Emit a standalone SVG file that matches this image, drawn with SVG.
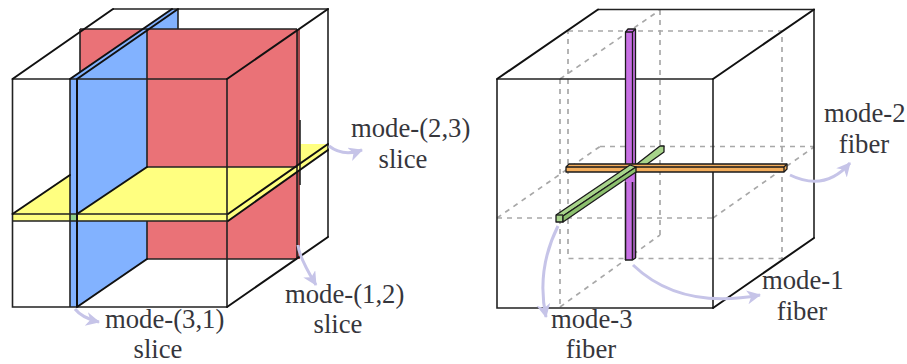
<svg xmlns="http://www.w3.org/2000/svg" width="907" height="364" viewBox="0 0 907 364">
<style>
.t{font-family:"Liberation Serif","Times New Roman",serif;font-size:26.7px;fill:#36363c}
.m{text-anchor:middle}
.e{fill:none;stroke:#222;stroke-width:1.6}
.d{fill:none;stroke:#111;stroke-width:2;stroke-linecap:round}
.h{fill:none;stroke:#a8a8a8;stroke-width:1.7;stroke-dasharray:5 5}
.o{stroke:#1a1a1a;stroke-width:1.3;stroke-linejoin:round}
.a{fill:none;stroke:#c6c4e8;stroke-width:3;marker-end:url(#ah)}
</style>
<defs>
<marker id="ah" markerUnits="userSpaceOnUse" markerWidth="18" markerHeight="18" refX="13" refY="7" orient="auto">
<path d="M0 0L14 7L0 14L4 7Z" fill="#c6c4e8"/>
</marker>
</defs>
<rect width="907" height="364" fill="#fff"/>

<g id="slice-cube">
<polygon points="80,29 297,29 297,259 147,259 147,221 80,221" fill="#ea7277"/>
<polygon points="300,144 328,144 300,164" fill="#ffff80"/>
<rect x="297" y="29" width="3" height="230" fill="#a8484c"/>
<polygon points="147,29 178,29 178,9 172,9" fill="#82b2ff"/>
<polygon points="12.5,214 80,167 297,167 297,171 228,221 12.500,221" fill="#ffff80"/>
<polygon points="77,79 147,29 147,167 77,214" fill="#82b2ff"/>
<polygon points="77,221 147,221 147,259 77,307" fill="#82b2ff"/>
<rect x="70" y="79" width="7" height="228" fill="#82b2ff"/>
<rect x="70" y="214" width="7" height="7" fill="#8fd08a"/>
<polygon points="70,79 172,9 178,9 77,79" fill="#82b2ff"/>
<polygon points="228,214 328,144 328,150 228,221" fill="#ffff80"/>
<path class="e" d="M12.500 79V307H227V79H12.500M113 9H328V237M80 29H297M80 29V72M147 29V167M147 221V259M178 9V29M147 167H297M147 259H297M12.500 214H227M12.500 221H227M297 29V259M300 120V185M70 79V307"/>
<path class="d" d="M12.500 79L113 9M227 79L328 9M227 307L328 237M12.500 214L70 175M77 214L147 167M77 307L147 259M228 214L328 144M228 221L328 150M70 79L172 9M77 79L178 9M77 79V307"/>
</g>

<g id="fiber-cube">
<path class="h" d="M568 31H782V258.500H568ZM600 146.500H814M660 10V235M560 79V307M497 218H713M560 79L660 10M497 218L600 146.500M713 218L814 147M560 307L660 235"/>
<path class="e" d="M497 79V308H713V79H497M598 9.500H814V238"/>
<path class="d" d="M497 79L598 9.500M713 79L814 9.500M713 308L814 238"/>
<polygon class="o" points="633,167 660,146 664,146 664,152 636,172" fill="#a7d48a"/>
<polygon class="o" points="625.500,32 628,29 635.500,29 635.500,258 632.500,260 625.500,260" fill="#c870e4"/>
<path class="o" d="M632.500 32V260M625.500 32H632.500L635.500 29" fill="none"/>
<polygon class="o" points="566,167 569,164 787,164 787,169 784,172 566,172" fill="#f4ae5c"/>
<path class="o" d="M566 167H784V172M784 167L787 164" fill="none"/>
<rect x="625.500" y="172" width="10" height="10" fill="#c870e4"/>
<polygon class="o" points="556,215 630,165 636,167 563,216 563,222 556,222" fill="#a7d48a"/>
<polygon class="o" points="563,216 636,167 636,172 563,222" fill="#8cc06e"/>
<path class="o" d="M556 215H563" fill="none"/>
<path class="o" d="M625.500 182V260M632.500 182V260M635.500 172V258" fill="none"/>
</g>

<g id="connectors">
<path class="a" d="M329 146C338 153 348 155 362 150"/>
<path class="a" d="M75 309Q82 318 99 322"/>
<path class="a" d="M298 245Q299 257 316 285"/>
<path class="a" d="M790 175Q825 192 850 163"/>
<path class="a" d="M558 226Q536 270 546 317"/>
<path class="a" d="M633 265Q680 310 760 295"/>
</g>

<g id="labels">
<text class="t" x="351" y="137">mode-(2,3)</text>
<text class="t m" x="403" y="168">slice</text>
<text class="t" x="105" y="328">mode-(3,1)</text>
<text class="t m" x="158" y="358">slice</text>
<text class="t" x="285" y="303">mode-(1,2)</text>
<text class="t m" x="338" y="333">slice</text>
<text class="t" x="824" y="122">mode-2</text>
<text class="t m" x="864" y="153">fiber</text>
<text class="t" x="551" y="328">mode-3</text>
<text class="t m" x="591" y="358">fiber</text>
<text class="t" x="762" y="289">mode-1</text>
<text class="t m" x="802" y="320">fiber</text>
</g>
</svg>
